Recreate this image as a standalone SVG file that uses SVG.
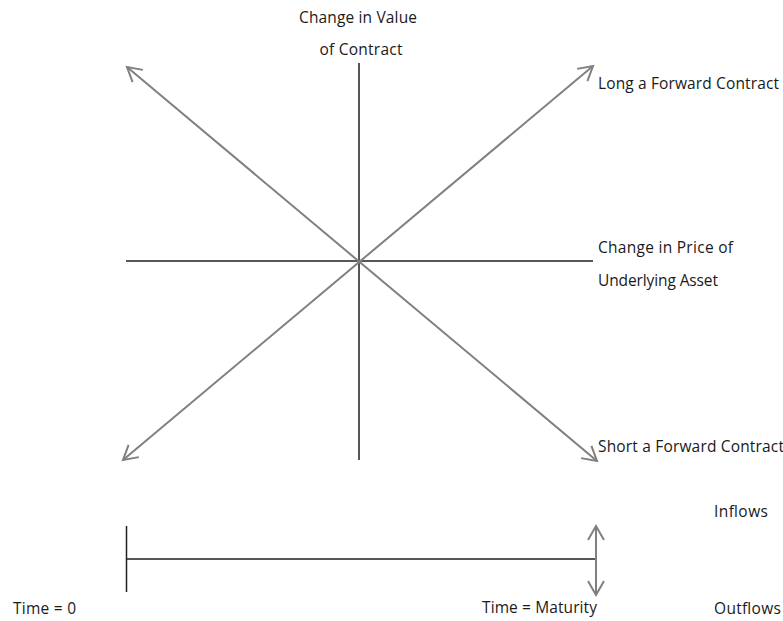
<svg xmlns="http://www.w3.org/2000/svg" width="783" height="621" viewBox="0 0 783 621">
  <style>
    .axis { stroke: #1f1f1f; stroke-width: 1.5; fill: none; }
    .arr { stroke: #808080; stroke-width: 2; fill: none; }
    .lbl { font-family: "Open Sans", "Liberation Sans", sans-serif; font-size: 15.5px; fill: #1a1a1a; }
  </style>
  <defs>
    <marker id="head" markerUnits="userSpaceOnUse" markerWidth="30" markerHeight="30" viewBox="-20 -15 30 30" refX="0" refY="0" orient="auto-start-reverse">
      <path d="M -14 -8 L 0 0 L -14 8" stroke="#808080" stroke-width="2" fill="none" stroke-linejoin="miter"/>
    </marker>
  </defs>
  <rect width="783" height="621" fill="#ffffff"/>

  <g id="axes">
    <line class="axis" x1="359" y1="63" x2="359" y2="460"/>
    <line class="axis" x1="126" y1="261" x2="593" y2="261"/>
  </g>

  <g id="connectors">
    <line id="long-line" class="arr" x1="123" y1="460" x2="593" y2="66" marker-start="url(#head)" marker-end="url(#head)"/>
    <line id="short-line" class="arr" x1="127" y1="67" x2="597" y2="461" marker-start="url(#head)" marker-end="url(#head)"/>
    <line id="flows-arrow" class="arr" x1="596" y1="526" x2="596" y2="595" marker-start="url(#head)" marker-end="url(#head)"/>
  </g>

  <g id="timeline">
    <line class="axis" x1="126.5" y1="526" x2="126.5" y2="592"/>
    <line class="axis" x1="126.5" y1="559" x2="595" y2="559"/>
  </g>

  <g id="label-value">
    <text class="lbl" x="358" y="23" text-anchor="middle" textLength="118">Change in Value</text>
    <text class="lbl" x="361" y="55" text-anchor="middle" textLength="83">of Contract</text>
  </g>
  <g id="label-long">
    <text class="lbl" x="598" y="89" textLength="181">Long a Forward Contract</text>
  </g>
  <g id="label-price">
    <text class="lbl" x="598" y="253" textLength="135">Change in Price of</text>
    <text class="lbl" x="598" y="286" textLength="120">Underlying Asset</text>
  </g>
  <g id="label-short">
    <text class="lbl" x="598" y="452" textLength="186">Short a Forward Contract</text>
  </g>
  <g id="label-inflows">
    <text class="lbl" x="714" y="517" textLength="54">Inflows</text>
  </g>
  <g id="label-outflows">
    <text class="lbl" x="714" y="614" textLength="67">Outflows</text>
  </g>
  <g id="label-maturity">
    <text class="lbl" x="482" y="613" textLength="115">Time = Maturity</text>
  </g>
  <g id="label-time0">
    <text class="lbl" x="13" y="614" textLength="63">Time = 0</text>
  </g>
</svg>
